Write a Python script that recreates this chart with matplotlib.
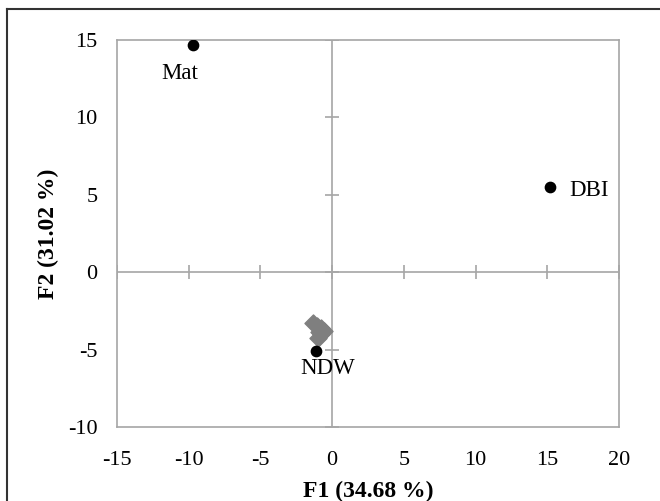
import numpy as np
import matplotlib.pyplot as plt
from matplotlib.lines import Line2D

plt.rcParams['font.family'] = ['Liberation Serif', 'DejaVu Serif']
plt.rcParams['axes.unicode_minus'] = False

# variables (black dots)
var_names = ['Mat', 'DBI', 'NDW']
var_f1 = [-9.7, 15.2, -1.1]
var_f2 = [14.7, 5.5, -5.1]

# observations (grey diamonds)
obs_f1 = [-1.3, -1.05, -0.8, -0.55, -0.75, -1.0, -0.9]
obs_f2 = [-3.3, -3.45, -3.6, -3.8, -4.0, -4.25, -3.85]

xticks = [-15, -10, -5, 0, 5, 10, 15, 20]
yticks = [-10, -5, 0, 5, 10, 15]

fig = plt.figure(figsize=(6.6, 5.01), dpi=100)
ax = fig.add_axes([0.177, 0.1477, 0.761, 0.7725])

grey = '#a6a6a6'
ax.axhline(0, color=grey, lw=1.2, zorder=1)
ax.axvline(0, color=grey, lw=1.2, zorder=1)
# small tick marks on the zero lines
ax.plot(xticks, np.zeros(len(xticks)), ls='none', marker='|', ms=10, mew=1.2, color=grey, zorder=1)
ax.plot(np.zeros(len(yticks)), yticks, ls='none', marker='_', ms=10, mew=1.2, color=grey, zorder=1)

ax.scatter(obs_f1, obs_f2, marker='D', s=75, color='#7f7f7f', zorder=2)
ax.scatter(var_f1, var_f2, marker='o', s=55, color='black', zorder=3)

ax.annotate(var_names[0], (var_f1[0], var_f2[0]), xytext=(-23, -24.5), textcoords='offset points',
            ha='left', va='baseline', fontsize=16.5)
ax.annotate(var_names[1], (var_f1[1], var_f2[1]), xytext=(13.5, -6.5), textcoords='offset points',
            ha='left', va='baseline', fontsize=16.5)
ax.annotate(var_names[2], (var_f1[2], var_f2[2]), xytext=(-11.5, -16.5), textcoords='offset points',
            ha='left', va='baseline', fontsize=16.5)

ax.set_xlim(-15, 20)
ax.set_ylim(-10, 15)
ax.set_xticks(xticks)
ax.set_yticks(yticks)
ax.tick_params(length=0, labelsize=16)
ax.tick_params(axis='x', pad=17)
ax.tick_params(axis='y', pad=14)
for s in ax.spines.values():
    s.set_color(grey)
    s.set_linewidth(1.2)

ax.set_xlabel('F1 (34.68 %)', fontsize=17, fontweight='bold', labelpad=8)
ax.set_ylabel('F2 (31.02 %)', fontsize=17, fontweight='bold', labelpad=6)

# outer frame of the picture (left and top edges)
fig.lines.append(Line2D([0.0106, 0.0106], [0, 0.982], transform=fig.transFigure,
                        color='#333333', lw=1.5))
fig.lines.append(Line2D([0.0106, 1], [0.982, 0.982], transform=fig.transFigure,
                        color='#333333', lw=1.5))

fig.savefig('out.png', dpi=100)
